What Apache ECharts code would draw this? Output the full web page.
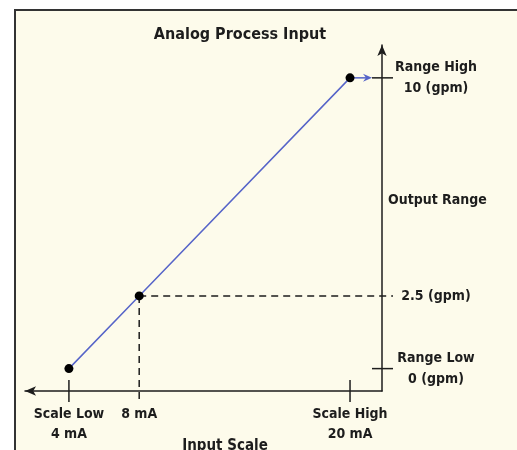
<!DOCTYPE html>
<html>
<head>
<meta charset="utf-8">
<script src="https://cdn.jsdelivr.net/npm/echarts@6/dist/echarts.min.js"></script>
<style>
  html, body { margin: 0; padding: 0; background: #fff; }
  #chart { width: 517px; height: 450px; }
</style>
</head>
<body>
<div id="chart"></div>
<script>
// input scale (mA) -> output range (gpm)
const inputMA = [4, 8, 20];
const outputGPM = [0, 2.5, 10];
const xTickLabels = ['Scale Low\n4 mA', '8 mA', 'Scale High\n20 mA'];
const yTickLabels = ['Range Low\n0 (gpm)', '2.5 (gpm)', 'Range High\n10 (gpm)'];
const titleText = 'Analog Process Input';
const xName = 'Input Scale';
const yName = 'Output Range';

const FONT = "'DejaVu Sans Condensed', sans-serif";
const INK = '#1d1d1d';
const BLUE = '#5664c8';
const X_MIN = 1.5, X_MAX = 21.82;
const Y_MIN = -0.77, Y_MAX = 11.13;

const chart = echarts.init(document.getElementById('chart'));

function pick (vals, labels) {
  return function (v) {
    const i = vals.indexOf(v);
    return i < 0 ? '' : labels[i];
  };
}

const labelStyle = {
  color: INK, fontFamily: FONT, fontWeight: 'bold', fontSize: 14
};

chart.setOption({
  animation: false,
  backgroundColor: 'transparent',
  grid: { left: 25, right: 135, top: 45, bottom: 59 },
  xAxis: {
    type: 'value', min: X_MIN, max: X_MAX,
    splitLine: { show: false },
    axisTick: { show: false },
    axisLine: {
      onZero: false, symbol: ['arrow', 'none'], symbolSize: [7, 11],
      lineStyle: { color: INK, width: 1.5 }
    },
    axisLabel: Object.assign({
      customValues: inputMA, formatter: pick(inputMA, xTickLabels),
      margin: 13, lineHeight: 20, align: 'center'
    }, labelStyle)
  },
  yAxis: {
    type: 'value', position: 'right', min: Y_MIN, max: Y_MAX,
    splitLine: { show: false },
    axisTick: { show: false },
    axisLine: {
      onZero: false, symbol: ['none', 'arrow'], symbolSize: [7, 11],
      lineStyle: { color: INK, width: 1.5 }
    },
    axisLabel: Object.assign({
      customValues: outputGPM, formatter: pick(outputGPM, yTickLabels),
      margin: 54, lineHeight: 21, align: 'center'
    }, labelStyle)
  },
  series: [{
    type: 'line',
    data: inputMA.map((x, i) => [x, outputGPM[i]]),
    symbol: 'circle', symbolSize: 9,
    itemStyle: { color: '#000' },
    lineStyle: { color: BLUE, width: 1.5 },
    z: 5
  }]
});

// ticks, dashed guides and the output arrow, placed through the chart's scales
const px = (x, y) => chart.convertToPixel({ gridIndex: 0 }, [x, y]);
const corner = px(X_MAX, Y_MIN);
const axisX = corner[0], axisY = corner[1];
const g = [];

g.push({
  type: 'rect', z: -100, silent: true,
  shape: { x: 15, y: 10, width: 600, height: 500 },
  style: { fill: '#fdfbeb', stroke: '#333', lineWidth: 2 }
});

inputMA.forEach((v, i) => {
  const p = px(v, outputGPM[i]);
  if (i === 1) {
    g.push({ type: 'line', z: 3, shape: { x1: p[0], y1: p[1], x2: p[0], y2: axisY + 11 },
      style: { stroke: INK, lineWidth: 1.5, lineDash: [7, 5] } });
    g.push({ type: 'line', z: 3, shape: { x1: p[0], y1: p[1], x2: axisX + 11, y2: p[1] },
      style: { stroke: INK, lineWidth: 1.5, lineDash: [7, 5] } });
  } else {
    const tx = px(v, Y_MIN)[0];
    g.push({ type: 'line', z: 3, shape: { x1: tx, y1: axisY - 11, x2: tx, y2: axisY + 11 },
      style: { stroke: INK, lineWidth: 1.5 } });
    const ty = px(X_MAX, outputGPM[i])[1];
    g.push({ type: 'line', z: 3, shape: { x1: axisX - 10, y1: ty, x2: axisX + 11, y2: ty },
      style: { stroke: INK, lineWidth: 1.5 } });
  }
});

// blue arrow from the top point to the output axis
const topPt = px(inputMA[2], outputGPM[2]);
const tipX = axisX - 10;
g.push({ type: 'line', z: 4, shape: { x1: topPt[0], y1: topPt[1], x2: tipX - 4, y2: topPt[1] },
  style: { stroke: BLUE, lineWidth: 1.5 } });
g.push({ type: 'polygon', z: 4,
  shape: { points: [[tipX, topPt[1]], [tipX - 9, topPt[1] - 4], [tipX - 6, topPt[1]], [tipX - 9, topPt[1] + 4]] },
  style: { fill: BLUE } });

const textStyle = (extra) => Object.assign({
  fill: INK, font: 'bold 14px ' + FONT
}, extra);
g.push({ type: 'text', z: 5, x: 240, y: 35, style: textStyle({ text: titleText, align: 'center', verticalAlign: 'middle', font: 'bold 16px ' + FONT }) });
g.push({ type: 'text', z: 5, x: 388, y: 200, style: textStyle({ text: yName, align: 'left', verticalAlign: 'middle' }) });
g.push({ type: 'text', z: 5, x: 225, y: 446, style: textStyle({ text: xName, align: 'center', verticalAlign: 'middle', font: 'bold 15px ' + FONT }) });

chart.setOption({ graphic: g });
</script>
</body>
</html>
